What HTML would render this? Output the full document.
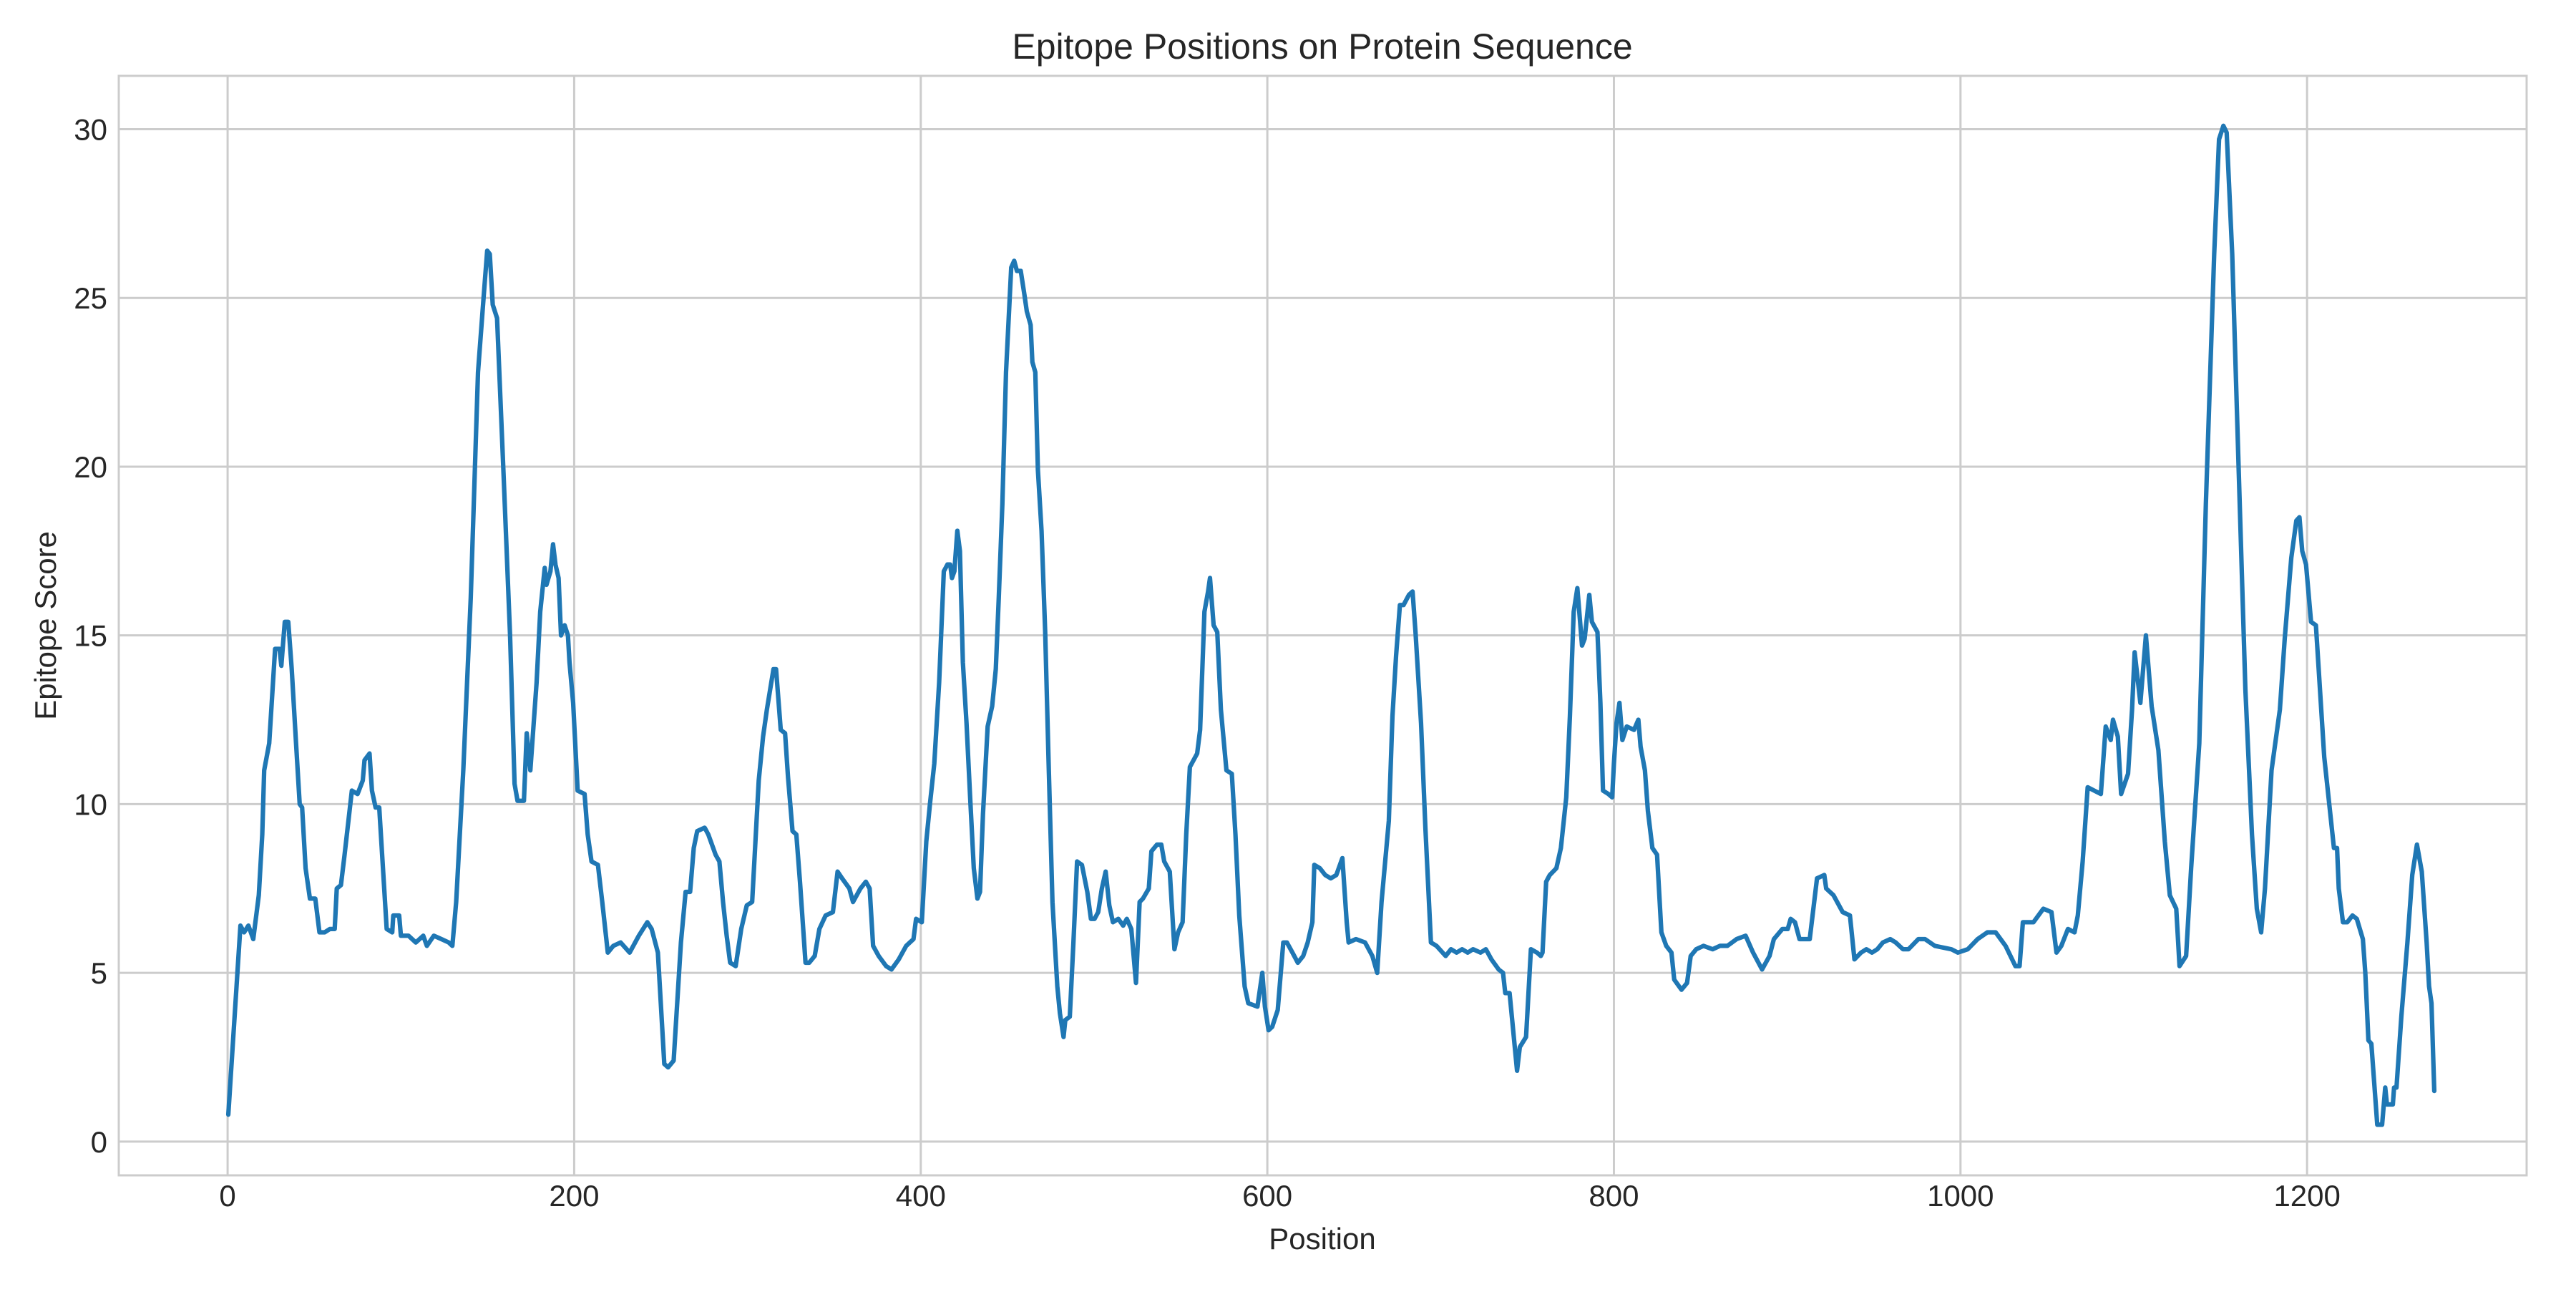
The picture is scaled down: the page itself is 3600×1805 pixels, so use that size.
<!DOCTYPE html>
<html><head><meta charset="utf-8">
<style>
html,body{margin:0;padding:0;background:#fff;}
body{width:3600px;height:1800px;overflow:hidden;font-family:"Liberation Sans",sans-serif;}
</style></head>
<body>
<svg id="chart" width="3600" height="1800" viewBox="0 0 3600 1800" xmlns="http://www.w3.org/2000/svg">
<rect x="0" y="0" width="3600" height="1800" fill="#ffffff"/>
<g id="grid"></g>
<g id="ticks"></g>
<g id="series"></g>
<rect x="166" y="106" width="3365" height="1536" fill="none" stroke="#cccccc" stroke-width="3"/>
<text x="1848" y="82" text-anchor="middle" font-size="50" fill="#262626" font-family="Liberation Sans, sans-serif">Epitope Positions on Protein Sequence</text>
<text x="1848" y="1745" text-anchor="middle" font-size="42" fill="#262626" font-family="Liberation Sans, sans-serif">Position</text>
<text x="0" y="0" transform="translate(78,874) rotate(-90)" text-anchor="middle" font-size="42" fill="#262626" font-family="Liberation Sans, sans-serif">Epitope Score</text>
</svg>
<script>
const xTicks = [0, 200, 400, 600, 800, 1000, 1200];
const yTicks = [0, 5, 10, 15, 20, 25, 30];
const positions = [0.4,7.4,9.5,12,14.8,18,20,21.1,24,27.4,30,31,33,35,37,39.5,41.6,43,45,47.5,50.6,53,56,59,61.8,63,65.4,67.5,71.7,75,78,79,81.9,83.3,85.4,87.5,91.8,95,95.6,99,100,104.4,108.6,112.9,115,119,123.4,127.6,129.7,131.9,136,140.3,144.5,147.7,149.8,151.3,153,155.5,159.3,163,165.6,167.3,171,172.6,174.7,178.3,180.4,183,184,186.3,187.8,189.2,191,192.4,194.5,196.4,197.3,199.4,202,206,207.8,210,213.7,216.2,219.4,222.6,226.8,232,237.3,242.2,244.7,248.3,252,254.2,257.4,261.6,264.3,266.9,269,271,275.3,277.4,281.6,283.8,285.9,288,290,293.2,296.4,299.6,302.7,306.5,309,311.2,315,316.5,319.2,321.7,323.4,
326,328.2,330.3,333.5,335.6,338.8,341.5,345.1,349.3,352,354.6,358.8,360.9,365.2,368.3,370.5,372.5,375.7,380,383.1,387.3,391.6,395.8,397.3,400.6,403.2,405.3,407.8,410.6,413.3,415.4,417,418,419.4,421.1,422.6,424.3,426.4,428.5,430.6,432.7,434.2,435.9,438.6,441.2,443.3,445,447.1,449.2,452.2,453.9,455.5,457.7,459.8,461.2,463.4,464.4,466.1,467.6,469.7,471.8,473.9,476,478.8,480.3,482.4,483.4,486,488.1,490.2,493,496.1,498.2,500.3,502.4,504.5,506.7,508.8,510.9,514,516.8,518.9,521.5,524.2,526.3,528.2,531.6,533.1,536.3,538.8,540.5,543.7,546.4,548.5,551.1,553.2,555.3,559.5,561.2,563.7,565.8,566.9,569,571.1,573.2,576.4,579.5,581.6,583.8,586.9,589,594.3,597.1,598.6,600.7,602.8,606,609.2,611.3,614.5,617.6,620.7,623.3,626,627.1,630.3,633.4,636.6,639.8,
643.3,645.8,646.9,651.1,656.4,660.6,663.4,665.9,670.1,672.2,674.3,676.5,678.6,681.7,683.8,685.5,688.7,691.2,694.4,697.6,702.9,706,709.2,712.4,715.6,718.7,723,726.1,729.3,733.5,736,737.3,739.8,744.1,745.7,749.3,752.1,755.6,757.8,758.8,760.9,763,766.8,769.4,772.5,774.6,776.8,778.9,781.6,783.1,785.8,787.3,790.5,792.2,793.7,796.8,799,800,801.5,803.2,804.9,807.4,811.6,814.1,815.4,817.9,819.6,822.2,824.9,827.4,830.2,833.2,834.8,839,842.2,844.3,847.5,851.7,857,861.2,865.5,870.8,876,880.3,885.5,889.8,892.3,897.2,900.3,902,904.5,907.1,913,917.2,921.4,922.5,926.7,932,936.2,938.8,942.6,945.7,948.9,952,955.2,959.5,962.6,966.8,
970,975.7,979.5,985.2,994.7,998.5,1004.2,1009.9,1015.5,1020.3,1026,1031.7,1034.1,1036,1042.1,1047.8,1052.5,1055.4,1058.2,1062,1065.8,1067.7,1070.5,1073.4,1081,1083.8,1086.7,1088,1090.8,1092.7,1096.7,1099,1100.5,1103.8,1107,1110.3,1114.2,1117.9,1120.8,1124.5,1126.4,1130.2,1133.1,1137.8,1141.6,1146.4,1149.2,1151.7,1153.6,1156.8,1160.6,1164.4,1168.2,1171,1173.5,1175.7,1179.5,1184.3,1187.1,1190.9,1193.8,1195.6,1197.2,1199.4,1202.3,1205.1,1209.9,
1215.5,1217.3,1218.3,1220.7,1223.2,1226.2,1228.7,1232.2,1233.6,1235.4,1237.1,1240.5,1243.3,1245.1,1246.1,1249.5,1250.2,1251.6,1254.4,1257.9,1260.7,1263.4,1266.2,1269,1270.4,1271.8,1273.4];
const scores = [0.8,6.4,6.2,6.4,6.0,7.3,9.1,11.0,11.8,14.6,14.6,14.1,15.4,15.4,14.0,11.8,10.0,9.9,8.1,7.2,7.2,6.2,6.2,6.3,6.3,7.5,7.6,8.5,10.4,10.3,10.7,11.3,11.5,10.4,9.9,9.9,6.3,6.2,6.7,6.7,6.1,6.1,5.9,6.1,5.8,6.1,6.0,5.9,5.8,7.1,11.0,16.1,22.8,25.0,26.4,26.3,24.8,24.4,19.7,15.0,10.6,10.1,10.1,12.1,11.0,13.6,15.7,17.0,16.5,16.9,17.7,17.1,16.7,15.0,15.3,15.0,14.2,13.0,10.4,10.3,9.1,8.3,8.2,7.1,5.6,5.8,5.9,5.6,6.1,6.5,6.3,5.6,2.3,2.2,2.4,5.9,7.4,7.4,8.7,9.2,9.3,9.1,8.5,8.3,7.1,6.1,5.3,5.2,6.3,7.0,7.1,10.7,12.0,12.8,14.0,14.0,12.2,12.1,10.8,
9.2,9.1,7.7,5.3,5.3,5.5,6.3,6.7,6.8,8.0,7.8,7.5,7.1,7.5,7.7,7.5,5.8,5.5,5.2,5.1,5.4,5.8,6.0,6.6,6.5,8.9,10.0,11.2,13.6,16.9,17.1,17.1,16.7,16.9,18.1,17.5,14.2,12.4,10.2,8.1,7.2,7.4,9.7,12.3,12.9,14.0,16.1,18.9,22.8,25.9,26.1,25.8,25.8,25.1,24.6,24.2,23.1,22.8,19.9,18.1,15.1,11.0,7.1,4.6,3.8,3.1,3.6,3.7,5.9,8.3,8.2,7.4,6.6,6.6,6.8,7.5,8.0,7.0,6.5,6.6,6.4,6.6,6.3,4.7,7.1,7.2,7.5,8.6,8.8,8.8,8.3,8.0,5.7,6.2,6.5,9.1,11.1,11.5,12.2,15.7,16.3,16.7,15.3,15.1,12.8,11.0,10.9,9.1,6.7,4.6,4.1,4.0,5.0,4.0,3.3,3.4,3.9,5.9,5.9,5.6,5.3,5.5,5.9,6.5,8.2,8.1,7.9,7.8,7.9,
8.4,6.5,5.9,6.0,5.9,5.5,5.0,7.1,9.5,12.6,14.4,15.9,15.9,16.2,16.3,15.1,12.4,9.3,5.9,5.8,5.5,5.7,5.6,5.7,5.6,5.7,5.6,5.7,5.4,5.1,5.0,4.4,4.4,2.1,2.8,3.1,5.7,5.6,5.5,5.6,7.7,7.9,8.1,8.7,10.2,12.6,15.7,16.4,14.7,14.9,16.2,15.4,15.1,13.0,10.4,10.3,10.2,11.2,12.4,13.0,11.9,12.3,12.2,12.5,11.7,11.0,9.8,8.7,8.5,6.2,5.8,5.6,4.8,4.5,4.7,5.5,5.7,5.8,5.7,5.8,5.8,6.0,6.1,5.6,5.1,5.5,6.0,6.3,6.3,6.6,6.5,6.0,6.0,7.8,7.9,7.5,7.3,6.8,6.7,5.4,5.6,5.7,5.6,5.7,5.9,6.0,5.9,5.7,
5.7,6.0,6.0,5.8,5.7,5.6,5.7,6.0,6.2,6.2,5.8,5.2,5.2,6.5,6.5,6.9,6.8,5.6,5.8,6.3,6.2,6.7,8.3,10.5,10.3,12.3,11.9,12.5,12.0,10.3,10.9,12.8,14.5,13.0,15.0,12.9,11.6,8.9,7.3,6.9,5.2,5.5,8.1,11.8,18.9,26.3,29.7,30.1,29.9,26.3,19.8,13.4,9.1,6.9,6.2,7.5,11.0,12.8,14.9,17.3,18.4,18.5,17.5,17.1,15.4,15.3,11.4,
8.7,8.7,7.5,6.5,6.5,6.7,6.6,6.0,5.0,3.0,2.9,0.5,0.5,1.6,1.1,1.1,1.6,1.6,3.7,5.9,7.9,8.8,8.0,5.9,4.6,4.1,1.5];

const NS = "http://www.w3.org/2000/svg";
const PL = 166, PR = 3531, PT = 106, PB = 1642;
const XMIN = -62.8, XMAX = 1326.7, YMIN = -1.0, YMAX = 31.58;
function sx(v){ return PL + (v - XMIN) / (XMAX - XMIN) * (PR - PL); }
function sy(v){ return PB - (v - YMIN) / (YMAX - YMIN) * (PB - PT); }

const grid = document.getElementById('grid');
const ticks = document.getElementById('ticks');
xTicks.forEach(function(t){
  const l = document.createElementNS(NS,'line');
  
  
  l.setAttribute('x1', sx(t)); l.setAttribute('x2', sx(t));
  l.setAttribute('y1', PT); l.setAttribute('y2', PB);
  l.setAttribute('stroke', '#cccccc'); l.setAttribute('stroke-width', '3');
  grid.appendChild(l);
  const tx = document.createElementNS(NS,'text');
  
  
  tx.setAttribute('x', sx(t)); tx.setAttribute('y', 1685);
  tx.setAttribute('text-anchor', 'middle'); tx.setAttribute('font-size', '42');
  tx.setAttribute('fill', '#262626'); tx.setAttribute('font-family', 'Liberation Sans, sans-serif');
  tx.textContent = String(t);
  ticks.appendChild(tx);
});
yTicks.forEach(function(t){
  const l = document.createElementNS(NS,'line');
  
  
  l.setAttribute('x1', PL); l.setAttribute('x2', PR);
  l.setAttribute('y1', sy(t)); l.setAttribute('y2', sy(t));
  l.setAttribute('stroke', '#cccccc'); l.setAttribute('stroke-width', '3');
  grid.appendChild(l);
  const tx = document.createElementNS(NS,'text');
  
  
  tx.setAttribute('x', 150); tx.setAttribute('y', sy(t) + 15);
  tx.setAttribute('text-anchor', 'end'); tx.setAttribute('font-size', '42');
  tx.setAttribute('fill', '#262626'); tx.setAttribute('font-family', 'Liberation Sans, sans-serif');
  tx.textContent = String(t);
  ticks.appendChild(tx);
});

let d = '';
for (let i = 0; i < positions.length; i++) {
  d += (i === 0 ? 'M' : 'L') + sx(positions[i]).toFixed(2) + ',' + sy(scores[i]).toFixed(2);
}
const path = document.createElementNS(NS,'path');


path.setAttribute('d', d);
path.setAttribute('fill', 'none');
path.setAttribute('stroke', '#1f77b4');
path.setAttribute('stroke-width', '6.25');
path.setAttribute('stroke-linejoin', 'round');
path.setAttribute('stroke-linecap', 'round');
document.getElementById('series').appendChild(path);
</script>
</body></html>
